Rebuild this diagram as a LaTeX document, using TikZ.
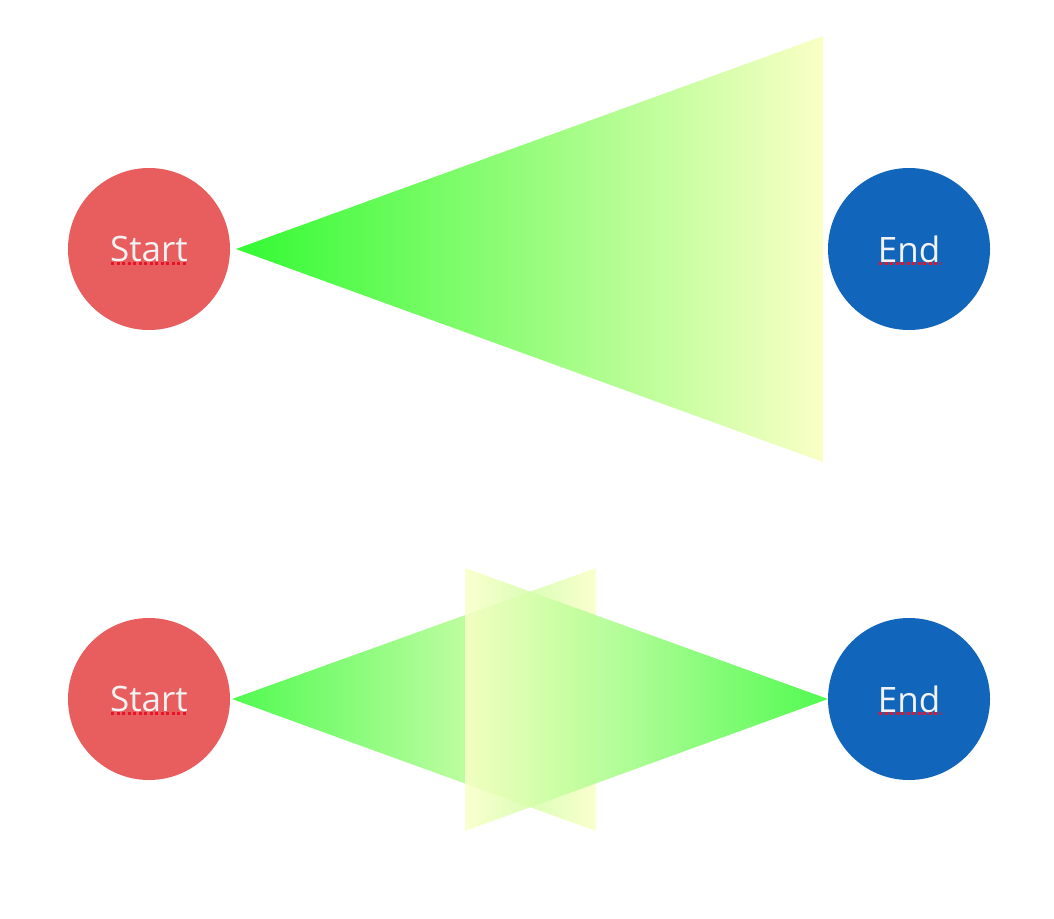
\documentclass[tikz,border=0pt]{standalone}
\usepackage{fontspec}
\setmainfont{Open Sans}
\definecolor{startred}{RGB}{232,94,94}
\definecolor{endblue}{RGB}{17,101,187}
\definecolor{tipgreen}{RGB}{51,250,51}
\definecolor{paleyellow}{RGB}{250,255,198}
\definecolor{labelwhite}{RGB}{242,242,242}
\definecolor{spellred}{RGB}{230,20,40}
\tikzset{
  startnode/.style={circle,fill=startred,minimum size=162pt,inner sep=0pt,text=labelwhite,font=\fontsize{35}{40}\selectfont},
  endnode/.style={circle,fill=endblue,minimum size=162pt,inner sep=0pt,text=labelwhite,font=\fontsize{35}{40}\selectfont},
  spell/.style={spellred,line width=3pt,dash pattern=on 3pt off 2.5pt},
}
\begin{document}
\begin{tikzpicture}[x=1pt,y=-1pt]
\fill[white] (0,0) rectangle (1054,918);
\useasboundingbox (0,0) rectangle (1054,918);
% top row
\node[startnode] (s1) at (149,249) {Start};
\node[endnode] (e1) at (909,249) {End};
\shade[left color=tipgreen,right color=paleyellow] (236,249) -- (823,36) -- (823,462) -- cycle;
% bottom row
\node[startnode] (s2) at (149,699) {Start};
\node[endnode] (e2) at (909,699) {End};
\shade[left color=tipgreen,right color=paleyellow,fill opacity=0.85] (232,699) -- (596,568) -- (596,831) -- cycle;
\shade[left color=paleyellow,right color=tipgreen,fill opacity=0.85] (465,568) -- (828,699) -- (465,831) -- cycle;
% spell-check underlines
\draw[spell] (111,263) -- (187,263);
\draw[spell] (879,263) -- (940,263);
\draw[spell] (111,713) -- (187,713);
\draw[spell] (879,713) -- (940,713);
\end{tikzpicture}
\end{document}
